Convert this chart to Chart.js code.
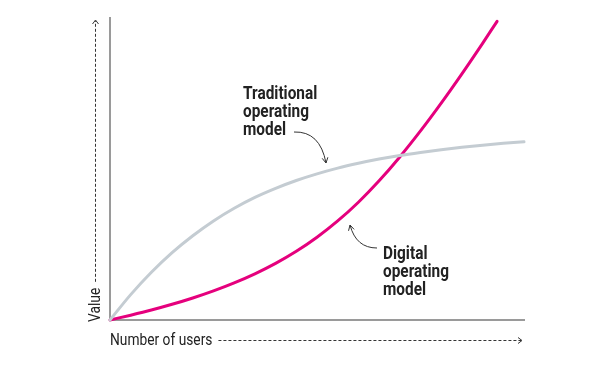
<!DOCTYPE html>
<html>
<head>
<meta charset="utf-8">
<script src="https://cdn.jsdelivr.net/npm/chart.js@4"></script>
<style>
  body { margin: 0; background: #fff; }
  #wrap { width: 600px; height: 365px; }
</style>
</head>
<body>
<div id="wrap"><canvas id="chart"></canvas></div>
<script>
// values, both axes on a 0-100 scale
const traditionalX = [0, 5, 10, 15, 20, 25, 30, 35, 40, 45, 50, 55, 60, 65, 70, 75, 80, 85, 90, 95, 100];
const traditionalY = [0, 8.4, 15.8, 22.3, 27.9, 32.8, 37.0, 40.6, 43.6, 46.2, 48.4, 50.3, 51.9, 53.3, 54.5, 55.5, 56.4, 57.2, 57.9, 58.5, 59.0];
const digitalX = [0, 5, 10, 15, 20, 25, 30, 35, 40, 45, 50, 55, 60, 65, 70, 75, 80, 85, 90, 93.5];
const digitalY = [0, 1.6, 3.3, 5.2, 7.3, 9.65, 12.3, 15.3, 18.75, 22.75, 27.4, 32.8, 39.0, 46.1, 54.0, 62.6, 71.8, 81.5, 91.6, 98.9];

const xTitle = 'Number of users';
const yTitle = 'Value';
const traditionalLabel = ['Traditional', 'operating', 'model'];
const digitalLabel = ['Digital', 'operating', 'model'];

function toPoints(xs, ys) {
    return xs.map((x, i) => ({ x: x, y: ys[i] }));
}

// the original uses a condensed face, so squeeze Roboto a bit
const squeeze = 0.81;

function narrowText(ctx, text, x, y) {
    ctx.save();
    ctx.translate(x, y);
    ctx.scale(squeeze, 1);
    ctx.fillText(text, 0, 0);
    const w = ctx.measureText(text).width * squeeze;
    ctx.restore();
    return w;
}

function curvedArrow(ctx, x1, y1, cx, cy, x2, y2) {
    ctx.save();
    ctx.strokeStyle = '#333';
    ctx.lineWidth = 1;
    ctx.beginPath();
    ctx.moveTo(x1, y1);
    ctx.quadraticCurveTo(cx, cy, x2, y2);
    ctx.stroke();
    const ang = Math.atan2(y2 - cy, x2 - cx);
    ctx.beginPath();
    ctx.moveTo(x2 - 6 * Math.cos(ang - 0.5), y2 - 6 * Math.sin(ang - 0.5));
    ctx.lineTo(x2, y2);
    ctx.lineTo(x2 - 6 * Math.cos(ang + 0.5), y2 - 6 * Math.sin(ang + 0.5));
    ctx.stroke();
    ctx.restore();
}

const decorations = {
    id: 'decorations',
    afterDraw(chart) {
        const ctx = chart.ctx;
        const area = chart.chartArea;
        ctx.save();
        ctx.fillStyle = '#222';
        ctx.textBaseline = 'alphabetic';
        ctx.textAlign = 'left';

        // x axis title + dotted arrow
        ctx.font = '17px Roboto, sans-serif';
        const xw = narrowText(ctx, xTitle, area.left, 345);
        ctx.strokeStyle = '#333';
        ctx.lineWidth = 1;
        ctx.setLineDash([3, 2]);
        ctx.beginPath();
        ctx.moveTo(area.left + xw + 6, 340.5);
        ctx.lineTo(area.right - 3, 340.5);
        ctx.stroke();
        ctx.setLineDash([]);
        ctx.beginPath();
        ctx.moveTo(area.right - 6, 337.5);
        ctx.lineTo(area.right - 2, 340.5);
        ctx.lineTo(area.right - 6, 343.5);
        ctx.stroke();

        // y axis title + dotted arrow
        ctx.save();
        ctx.translate(100, area.bottom + 2);
        ctx.rotate(-Math.PI / 2);
        const yw = narrowText(ctx, yTitle, 0, 0);
        ctx.restore();
        ctx.setLineDash([3, 2]);
        ctx.beginPath();
        ctx.moveTo(95.5, area.bottom + 2 - yw - 6);
        ctx.lineTo(95.5, area.top + 3);
        ctx.stroke();
        ctx.setLineDash([]);
        ctx.beginPath();
        ctx.moveTo(92.5, area.top + 6);
        ctx.lineTo(95.5, area.top + 2);
        ctx.lineTo(98.5, area.top + 6);
        ctx.stroke();

        // annotations
        ctx.font = 'bold 19px Roboto, sans-serif';
        traditionalLabel.forEach((t, i) => narrowText(ctx, t, 243, 99 + i * 18));
        digitalLabel.forEach((t, i) => narrowText(ctx, t, 383, 258.5 + i * 18));
        ctx.restore();

        curvedArrow(ctx, 294, 132, 320, 131, 326, 163);
        curvedArrow(ctx, 377, 248, 356, 248, 350, 225);
    }
};

new Chart(document.getElementById('chart'), {
    type: 'line',
    data: {
        datasets: [{
            label: 'Traditional operating model',
            data: toPoints(traditionalX, traditionalY),
            borderColor: '#c4ccd2',
            borderWidth: 3,
            pointRadius: 0,
            cubicInterpolationMode: 'monotone',
            borderCapStyle: 'round',
            clip: false
        }, {
            label: 'Digital operating model',
            data: toPoints(digitalX, digitalY),
            borderColor: '#e5007d',
            borderWidth: 3,
            pointRadius: 0,
            cubicInterpolationMode: 'monotone',
            borderCapStyle: 'round',
            clip: false
        }]
    },
    options: {
        responsive: true,
        maintainAspectRatio: false,
        animation: false,
        layout: { padding: { left: 102, top: 18, right: 76, bottom: 37 } },
        plugins: { legend: { display: false }, tooltip: { enabled: false } },
        scales: {
            x: {
                type: 'linear', min: 0, max: 100,
                grid: { display: false },
                border: { display: true, color: '#9a9a9a', width: 2 },
                ticks: { display: false }
            },
            y: {
                min: 0, max: 100,
                grid: { display: false },
                border: { display: true, color: '#9a9a9a', width: 2 },
                ticks: { display: false }
            }
        }
    },
    plugins: [decorations]
});
</script>
</body>
</html>
